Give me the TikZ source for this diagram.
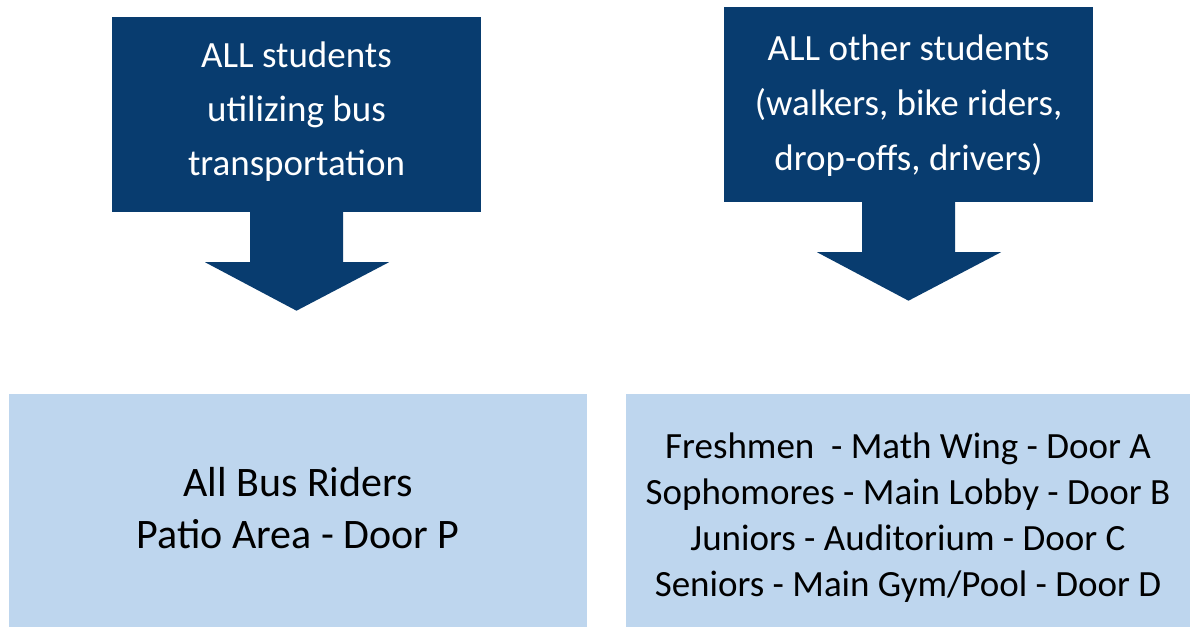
\documentclass[tikz,border=0pt]{standalone}
\usepackage{fontspec}
\setmainfont{Carlito}
\definecolor{darkblue}{RGB}{8,60,111}
\definecolor{lightblue}{RGB}{190,214,238}
\begin{document}
\begin{tikzpicture}[x=1pt,y=-1pt,
  topbox/.style={fill=darkblue,draw=none,inner sep=0pt,text=white,align=center,
    font=\fontsize{37}{54}\selectfont},
  bottombox/.style={fill=lightblue,draw=none,inner sep=0pt,text=black,align=center},
  arrowshape/.style={fill=darkblue,draw=none}]
\useasboundingbox (0,0) rectangle (1195,627);
\fill[white] (0,0) rectangle (1195,627);
% top boxes
\node[topbox,minimum width=369pt,minimum height=195pt] (tl) at (296.5,114.5) {};
\node[text=white,align=center,font=\fontsize{37}{54}\selectfont,inner sep=0pt] (tltext) at (296.5,111.5)
  {ALL students\\utilizing bus\\transportation};
\node[topbox,minimum width=369pt,minimum height=195pt] (tr) at (908.5,104.5) {};
\node[text=white,align=center,font=\fontsize{37}{55}\selectfont,inner sep=0pt] (trtext) at (908.5,106)
  {ALL other students\\(walkers, bike riders,\\drop-offs, drivers)};
% arrows
\fill[arrowshape] ([xshift=-46.5pt]tl.south) -- ++(0,50) -- ++(-45,0) -- ([yshift=-98.5pt]tl.south)
  -- ([xshift=92.5pt,yshift=-50pt]tl.south) -- ([xshift=46.5pt,yshift=-50pt]tl.south) -- ([xshift=46.5pt]tl.south) -- cycle;
\fill[arrowshape] ([xshift=-46.5pt]tr.south) -- ++(0,50) -- ++(-45,0) -- ([yshift=-98.5pt]tr.south)
  -- ([xshift=92.5pt,yshift=-50pt]tr.south) -- ([xshift=46.5pt,yshift=-50pt]tr.south) -- ([xshift=46.5pt]tr.south) -- cycle;
% bottom boxes
\node[bottombox,minimum width=578pt,minimum height=233pt] (bl) at (298,510.5) {};
\node[align=center,font=\fontsize{42}{52}\selectfont,inner sep=0pt] (bltext) at (298,508.5)
  {All Bus Riders\\Patio Area - Door P};
\node[bottombox,minimum width=564pt,minimum height=233pt] (br) at (908,510.5) {};
\node[align=center,font=\fontsize{37}{46}\selectfont,inner sep=0pt] (brtext) at (908,517.5)
  {Freshmen\ \ - Math Wing - Door A\\Sophomores - Main Lobby - Door B\\Juniors - Auditorium - Door C\\Seniors - Main Gym/Pool - Door D};
\end{tikzpicture}
\end{document}
